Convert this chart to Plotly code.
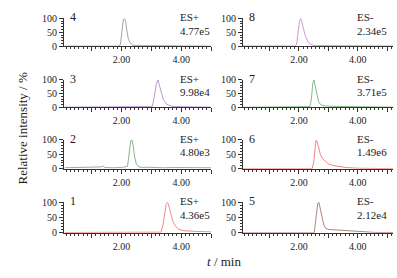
import plotly.graph_objects as go

W, H = 397, 278

# ---- data (time in min, relative intensity in %) ----
panel_ids = ["4", "3", "2", "1", "8", "7", "6", "5"]
modes = ["ES+", "ES+", "ES+", "ES+", "ES-", "ES-", "ES-", "ES-"]
max_counts = ["4.77e5", "9.98e4", "4.80e3", "4.36e5", "2.34e5", "3.71e5", "1.49e6", "2.12e4"]

t4 = [0.1, 1.0, 1.88, 1.96, 2.01, 2.06, 2.1, 2.14, 2.18, 2.23, 2.3, 2.38, 2.48, 2.6, 3.0, 3.2, 3.3, 4.0, 5.0]
i4 = [0, 0, 0, 5, 55, 97, 100, 88, 55, 25, 10, 4, 2, 2, 2, 1.5, 0.5, 0, 0]

t3 = [0.1, 1.0, 2.0, 2.9, 3.03, 3.1, 3.17, 3.22, 3.27, 3.33, 3.4, 3.5, 3.62, 3.8, 4.0, 4.3, 4.6, 5.0]
i3 = [1, 1, 1, 1, 3, 40, 85, 100, 80, 50, 28, 13, 6, 3, 2.5, 2, 1, 1]

t2 = [0.1, 0.5, 0.9, 1.2, 1.3, 1.38, 1.45, 1.7, 2.0, 2.2, 2.26, 2.31, 2.35, 2.39, 2.44, 2.5, 2.58,
      2.7, 2.85, 3.0, 3.4, 3.8, 4.2, 4.6, 5.0]
i2 = [3, 4, 3, 4, 6, 9, 4, 3, 4, 8, 60, 98, 100, 80, 40, 15, 6, 4, 5, 4, 3, 4, 3, 4, 3]

t1 = [0.1, 1.0, 2.0, 3.1, 3.32, 3.39, 3.45, 3.5, 3.54, 3.59, 3.65, 3.72, 3.82, 3.92, 4.07, 4.3, 4.55, 4.8, 5.0]
i1 = [1, 1, 1, 1, 2, 25, 70, 96, 100, 88, 62, 38, 20, 11, 7, 5, 4, 3.5, 3]

t8 = [0.1, 1.0, 1.85, 1.92, 1.97, 2.02, 2.06, 2.1, 2.15, 2.22, 2.3, 2.4, 2.55, 3.0, 3.4, 4.0, 5.2]
i8 = [0.5, 0.5, 0.5, 5, 45, 90, 100, 90, 65, 38, 18, 6, 2, 1.5, 1, 0.5, 0.5]

t7 = [0.1, 1.0, 1.8, 2.0, 2.2, 2.38, 2.43, 2.47, 2.51, 2.55, 2.6, 2.67, 2.75, 2.9, 3.1, 3.5, 4.0, 4.2, 4.6, 5.2]
i7 = [0.5, 0.5, 1, 3, 2, 3, 35, 85, 100, 80, 45, 20, 9, 5, 4, 3, 3, 1.5, 1, 1]

t6 = [0.1, 1.0, 2.0, 2.45, 2.5, 2.54, 2.58, 2.62, 2.67, 2.73, 2.8, 2.9, 3.0, 3.15, 3.35, 3.6, 4.0, 4.5, 5.2]
i6 = [0, 0, 0, 0, 20, 70, 98, 95, 75, 50, 35, 25, 17, 11, 7, 4, 1.5, 0.5, 0]

t5 = [0.1, 1.0, 2.0, 2.52, 2.56, 2.6, 2.64, 2.68, 2.72, 2.78, 2.85, 2.92, 3.0, 3.3, 3.6, 3.9, 4.2, 4.6, 5.2]
i5 = [0, 0, 0, 0, 30, 70, 95, 100, 85, 55, 25, 14, 11, 9, 6, 4, 3, 1, 1]

times = [t4, t3, t2, t1, t8, t7, t6, t5]
intens = [i4, i3, i2, i1, i8, i7, i6, i5]

x_tickvals = [1, 2, 3, 4, 5]
x_ticktext = ["", "2.00", "", "4.00", ""]
y_tickvals = [0, 50, 100]

# ---- styling ----
colors = ["#9a9a9a", "#b48ccb", "#7fae7f", "#f47a7a", "#c98ccc", "#78b078", "#f37676", "#b0706e"]
FONT = "Liberation Serif, Times New Roman, DejaVu Serif, serif"
AX = "#333333"
TXT = "#222222"

# column x-pixel extents, row y-pixel extents (100 line, 0 line)
cols = [(64, 211, [0.07, 5.0]), (243, 393, [0.1, 5.2])]
rows = [(13, 42), (77, 106), (140, 170), (205, 237)]


def px_x(p):
    return p / W


def px_y(p):
    return 1 - p / H


fig = go.Figure()
layout = dict(
    width=W, height=H, margin=dict(l=0, r=0, t=0, b=0),
    paper_bgcolor="white", plot_bgcolor="white",
    showlegend=False, font=dict(family=FONT, size=10, color=TXT),
)

annotations = []
for k in range(8):
    c = k // 4
    r = k % 4
    x0, x1, xr = cols[c]
    ytop, ybot = rows[r]
    n = k + 1
    sfx = "" if n == 1 else str(n)
    fig.add_trace(go.Scatter(
        x=times[k], y=intens[k], mode="lines",
        line=dict(color=colors[k], width=0.9),
        xaxis="x" + sfx, yaxis="y" + sfx,
        hoverinfo="skip",
    ))
    layout["xaxis" + sfx] = dict(
        domain=[px_x(x0), px_x(x1)], range=xr, anchor="y" + sfx,
        showgrid=False, zeroline=False, showline=True, linecolor=AX, linewidth=1,
        ticks="outside", ticklen=4, tickcolor=AX, tickwidth=1,
        tickvals=x_tickvals, ticktext=x_ticktext,
        tickfont=dict(family=FONT, size=10, color=TXT),
        minor=dict(ticks="outside", dtick=1 / 7, tick0=0, ticklen=2, tickcolor=AX, tickwidth=1),
    )
    layout["yaxis" + sfx] = dict(
        domain=[px_y(ybot), px_y(ytop)], range=[0, 100], anchor="x" + sfx,
        showgrid=False, zeroline=False, showline=True, linecolor=AX, linewidth=1,
        ticks="outside", ticklen=4, tickcolor=AX, tickwidth=1,
        tickvals=y_tickvals, tickfont=dict(family=FONT, size=10, color=TXT),
        minor=dict(ticks="outside", dtick=10, ticklen=2, tickcolor=AX, tickwidth=1),
    )
    # panel number
    annotations.append(dict(
        x=px_x(x0 + 4), y=px_y(ytop - 1), xref="paper", yref="paper",
        text=panel_ids[k], showarrow=False, xanchor="left", yanchor="middle",
        font=dict(family=FONT, size=12, color=TXT),
    ))
    # mode and max count
    tx = 178 if c == 0 else 355
    annotations.append(dict(
        x=px_x(tx), y=px_y(ytop - 1), xref="paper", yref="paper",
        text=modes[k], showarrow=False, xanchor="left", yanchor="middle",
        font=dict(family=FONT, size=11, color=TXT),
    ))
    annotations.append(dict(
        x=px_x(tx), y=px_y(ytop + 13), xref="paper", yref="paper",
        text=max_counts[k], showarrow=False, xanchor="left", yanchor="middle",
        font=dict(family=FONT, size=11, color=TXT),
    ))

annotations.append(dict(
    x=px_x(22), y=px_y(128), xref="paper", yref="paper",
    text="Relative intensity / %", showarrow=False, textangle=-90,
    xanchor="center", yanchor="middle", font=dict(family=FONT, size=13, color=TXT),
))
annotations.append(dict(
    x=px_x(224), y=px_y(267), xref="paper", yref="paper",
    text="<i>t</i> / min", showarrow=False,
    xanchor="center", yanchor="middle", font=dict(family=FONT, size=13, color=TXT),
))
layout["annotations"] = annotations
fig.update_layout(**layout)
fig.write_html(
    "out.html",
    config={"displayModeBar": False, "staticPlot": True},
    post_script="document.body.style.margin='0';document.body.style.overflow='hidden';",
)
